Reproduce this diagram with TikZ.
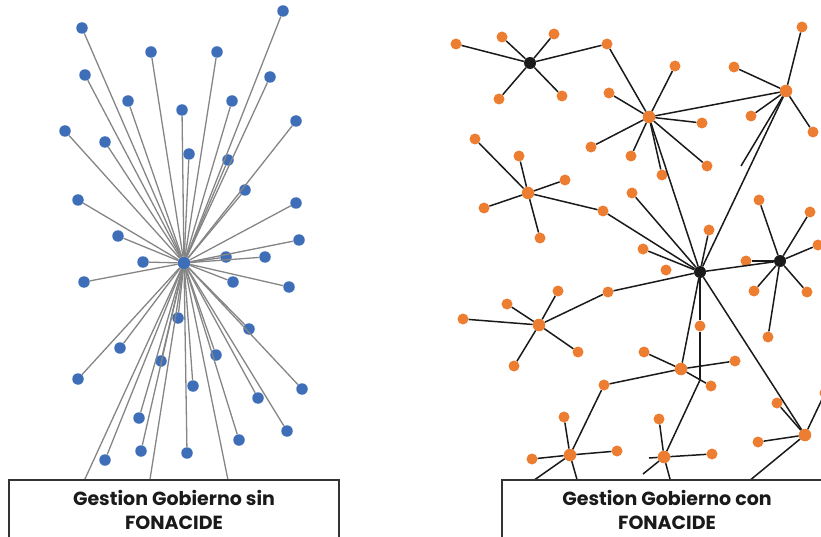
\documentclass[tikz,border=0pt]{standalone}
\usepackage{fontspec}
\setmainfont{Poppins}
\definecolor{dotblue}{HTML}{3F6EB8}
\definecolor{dotorange}{HTML}{ED7D31}
\definecolor{hubblack}{HTML}{1A1A1A}
\definecolor{linegray}{HTML}{858585}
\definecolor{boxline}{HTML}{333333}
\tikzset{
  bdot/.style={circle,fill=dotblue,inner sep=0pt,minimum size=11.5pt},
  odot/.style={circle,fill=dotorange,inner sep=0pt,minimum size=11pt},
  ohub/.style={circle,fill=dotorange,inner sep=0pt,minimum size=12.5pt},
  khub/.style={circle,fill=hubblack,inner sep=0pt,minimum size=12pt},
  caption/.style={draw=boxline,line width=1.3pt,fill=white,text=hubblack,
    align=center,minimum width=330pt,minimum height=60pt,
    font=\bfseries\fontsize{19}{24.5}\selectfont}
}
\begin{document}
\begin{tikzpicture}[x=1pt,y=-1pt]
  \useasboundingbox (0,0) rectangle (821,537);
  % sin FONACIDE: todo pasa por un solo centro
  \path
    (184,263) node[bdot,minimum size=12.5pt] (l0){}
    (82,28) node[bdot] (l1){}
    (283,11) node[bdot] (l2){}
    (151,52) node[bdot] (l3){}
    (217,52) node[bdot] (l4){}
    (85,75) node[bdot] (l5){}
    (270,77) node[bdot] (l6){}
    (128,101) node[bdot] (l7){}
    (232,101) node[bdot] (l8){}
    (182,110) node[bdot] (l9){}
    (296,121) node[bdot] (l10){}
    (65,131) node[bdot] (l11){}
    (105,142) node[bdot] (l12){}
    (189,154) node[bdot] (l13){}
    (228,160) node[bdot] (l14){}
    (245,190) node[bdot] (l15){}
    (78,200) node[bdot] (l16){}
    (296,203) node[bdot] (l17){}
    (118,236) node[bdot] (l18){}
    (299,240) node[bdot] (l19){}
    (143,262) node[bdot] (l20){}
    (226,257) node[bdot] (l21){}
    (265,257) node[bdot] (l22){}
    (84,282) node[bdot] (l23){}
    (233,282) node[bdot] (l24){}
    (289,287) node[bdot] (l25){}
    (178,318) node[bdot] (l26){}
    (249,329) node[bdot] (l27){}
    (120,348) node[bdot] (l28){}
    (161,361) node[bdot] (l29){}
    (216,355) node[bdot] (l30){}
    (78,379) node[bdot] (l31){}
    (193,386) node[bdot] (l32){}
    (302,389) node[bdot] (l33){}
    (258,398) node[bdot] (l34){}
    (139,418) node[bdot] (l35){}
    (287,431) node[bdot] (l36){}
    (239,440) node[bdot] (l37){}
    (105,460) node[bdot] (l38){}
    (141,451) node[bdot] (l39){}
    (187,453) node[bdot] (l40){}
    (229,485) node[bdot] (l41){};
  \coordinate (l42) at (79,492);
  \coordinate (l43) at (148,492);
  \begin{scope}[draw=linegray,line width=1.3pt]
    \draw (l0) to (l1);
    \draw (l0) to (l2);
    \draw (l0) to (l3);
    \draw (l0) to (l4);
    \draw (l0) to (l5);
    \draw (l0) to (l6);
    \draw (l0) to (l7);
    \draw (l0) to (l8);
    \draw (l0) to (l9);
    \draw (l0) to (l10);
    \draw (l0) to (l11);
    \draw (l0) to (l12);
    \draw (l0) to (l13);
    \draw (l0) to (l14);
    \draw (l0) to (l15);
    \draw (l0) to (l16);
    \draw (l0) to (l17);
    \draw (l0) to (l18);
    \draw (l0) to (l19);
    \draw (l0) to (l20);
    \draw (l0) to (l21);
    \draw (l0) to (l22);
    \draw (l0) to (l23);
    \draw (l0) to (l24);
    \draw (l0) to (l25);
    \draw (l0) to (l26);
    \draw (l0) to (l27);
    \draw (l0) to (l28);
    \draw (l0) to (l29);
    \draw (l0) to (l30);
    \draw (l0) to (l31);
    \draw (l0) to (l32);
    \draw (l0) to (l33);
    \draw (l0) to (l34);
    \draw (l0) to (l35);
    \draw (l0) to (l36);
    \draw (l0) to (l37);
    \draw (l0) to (l38);
    \draw (l0) to (l39);
    \draw (l0) to (l40);
    \draw (l0) to (l41);
    \draw (l0) to (l42);
    \draw (l0) to (l43);
  \end{scope}
  % con FONACIDE: red de nodos conectados
  \path
    (530,63) node[khub] (ha){}
    (649,117) node[ohub] (hb){}
    (786,91) node[ohub] (hc){}
    (700,272) node[khub] (hd){}
    (528,193) node[ohub] (he){}
    (780,261) node[khub] (hf){}
    (539,325) node[ohub] (hg){}
    (681,369) node[ohub] (hi){}
    (570,455) node[ohub] (hj){}
    (664,457) node[ohub] (hh){}
    (805,435) node[ohub] (hk){}
    (743,486) node[khub] (hm){};
  \path
    (456,44) node[odot] (o1){}
    (502,37) node[odot] (o2){}
    (554,34) node[odot] (o3){}
    (499,99) node[odot] (o4){}
    (562,96) node[odot] (o5){}
    (607,44) node[odot] (o6){}
    (675,66) node[odot] (o7){}
    (609,93) node[odot] (o8){}
    (702,123) node[odot] (o9){}
    (591,147) node[odot] (o10){}
    (631,156) node[odot] (o11){}
    (707,166) node[odot] (o12){}
    (662,175) node[odot] (o13){}
    (802,27) node[odot] (o14){}
    (734,67) node[odot] (o15){}
    (751,116) node[odot] (o16){}
    (813,132) node[odot] (o17){}
    (475,139) node[odot] (o18){}
    (519,156) node[odot] (o19){}
    (565,180) node[odot] (o20){}
    (484,208) node[odot] (o21){}
    (540,238) node[odot] (o22){}
    (603,211) node[odot] (o23){}
    (632,193) node[odot] (o24){}
    (709,230) node[odot] (o25){}
    (643,249) node[odot] (o26){}
    (666,270) node[odot] (o27){}
    (759,200) node[odot] (o28){}
    (810,212) node[odot] (o29){}
    (818,245) node[odot] (o30){}
    (746,261) node[odot] (o31){}
    (754,291) node[odot] (o32){}
    (807,292) node[odot] (o33){}
    (768,337) node[odot] (o34){}
    (608,292) node[odot] (o35){}
    (463,319) node[odot] (o36){}
    (507,304) node[odot] (o37){}
    (558,291) node[odot] (o38){}
    (578,352) node[odot] (o39){}
    (514,366) node[odot] (o40){}
    (700,326) node[odot] (o41){}
    (644,352) node[odot] (o42){}
    (735,361) node[odot] (o43){}
    (711,386) node[odot] (o44){}
    (604,385) node[odot] (o45){}
    (564,417) node[odot] (o46){}
    (532,459) node[odot] (o47){}
    (617,451) node[odot] (o48){}
    (659,419) node[odot] (o49){}
    (712,454) node[odot] (o50){}
    (777,403) node[odot] (o51){}
    (758,442) node[odot] (o52){}
    (825,393) node[odot] (o53){};
  \coordinate (cend) at (741,166);
  \coordinate (bend) at (700,380);
  \coordinate (hs1) at (649,458);
  \coordinate (hs2) at (643,474);
  \coordinate (jb1) at (520,490);
  \coordinate (jb2) at (580,490);
  \coordinate (hb3) at (673,490);
  \begin{scope}[draw=hubblack,line width=1.5pt]
    \draw (ha) to (o1);
    \draw (ha) to (o2);
    \draw (ha) to (o3);
    \draw (ha) to (o4);
    \draw (ha) to (o5);
    \draw (ha) to (o6);
    \draw (hb) to (o6);
    \draw (hb) to (o7);
    \draw (hb) to (o8);
    \draw (hb) to (o9);
    \draw (hb) to (o10);
    \draw (hb) to (o11);
    \draw (hb) to (o12);
    \draw (hb) to (o13);
    \draw (hb) to (hc);
    \draw (hb) to (hd);
    \draw (hc) to (o14);
    \draw (hc) to (o15);
    \draw (hc) to (o16);
    \draw (hc) to (o17);
    \draw (hc) to (hd);
    \draw (hc) to (cend);
    \draw (he) to (o18);
    \draw (he) to (o19);
    \draw (he) to (o20);
    \draw (he) to (o21);
    \draw (he) to (o22);
    \draw (he) to (o23);
    \draw (o23) to (hd);
    \draw (o24) to (hd);
    \draw (o25) to (hd);
    \draw (o26) to (hd);
    \draw (hd) to (hf);
    \draw (hf) to (o28);
    \draw (hf) to (o29);
    \draw (hf) to (o30);
    \draw (hf) to (o31);
    \draw (hf) to (o32);
    \draw (hf) to (o33);
    \draw (hf) to (o34);
    \draw (hd) to (o35);
    \draw (o35) to (hg);
    \draw (hg) to (o36);
    \draw (hg) to (o37);
    \draw (hg) to (o38);
    \draw (hg) to (o39);
    \draw (hg) to (o40);
    \draw (hd) to (hi);
    \draw (hd) to (o41);
    \draw (o41) to (bend);
    \draw (bend) to (hh);
    \draw (hi) to (o42);
    \draw (hi) to (o43);
    \draw (hi) to (o44);
    \draw (hi) to (o45);
    \draw (o45) to (hj);
    \draw (hj) to (o46);
    \draw (hj) to (o47);
    \draw (hj) to (o48);
    \draw (hj) to (jb1);
    \draw (hj) to (jb2);
    \draw (hh) to (o49);
    \draw (hh) to (o50);
    \draw (hh) to (hs1);
    \draw (hh) to (hs2);
    \draw (hh) to (hb3);
    \draw (hd) to (hk);
    \draw (hk) to (o51);
    \draw (hk) to (o52);
    \draw (hk) to (o53);
    \draw (hk) to (hm);
  \end{scope}
  \node[caption] (sin) at (174,510) {Gestion Gobierno sin\\FONACIDE};
  \node[caption] (con) at (667,510) {Gestion Gobierno con\\FONACIDE};
\end{tikzpicture}
\end{document}
